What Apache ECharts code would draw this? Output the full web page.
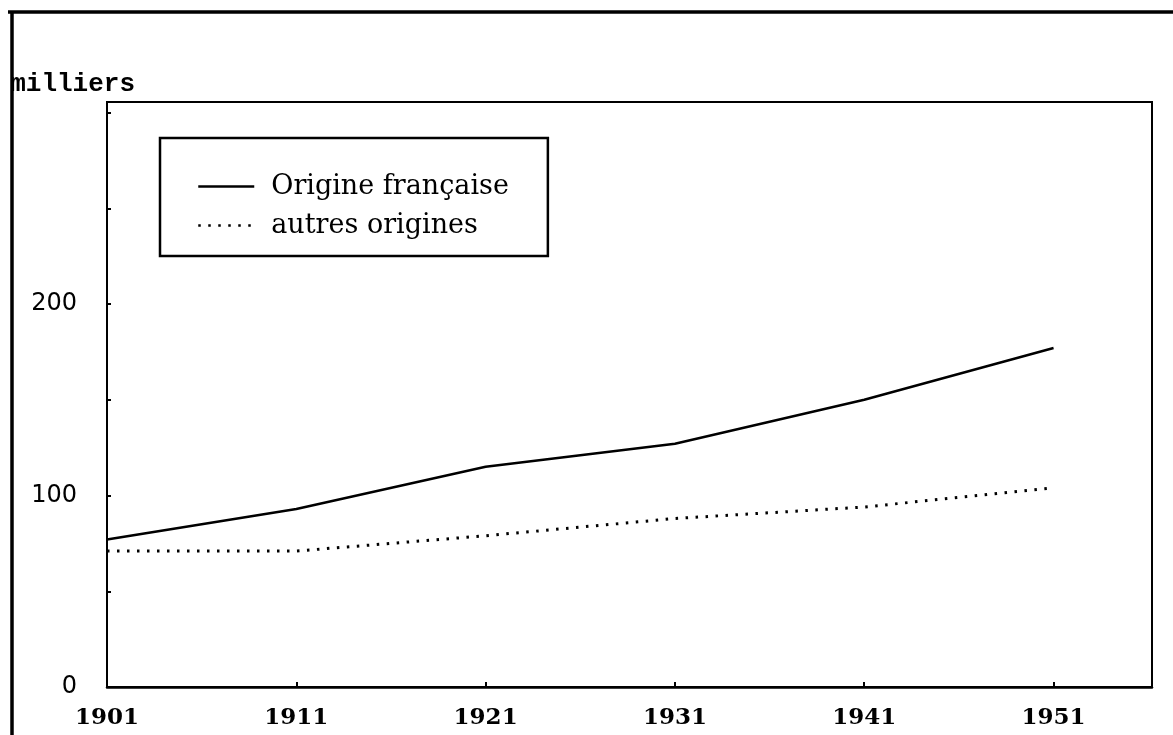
<!DOCTYPE html>
<html>
<head>
<meta charset="utf-8">
<script src="https://cdn.jsdelivr.net/npm/echarts@6/dist/echarts.min.js"></script>
<style>
html,body{margin:0;padding:0;background:#fff;}
#chart{width:1173px;height:735px;}
</style>
</head>
<body>
<div id="chart"></div>
<script>
// ---- data ----
const years = [1901, 1911, 1921, 1931, 1941, 1951];
const origineFrancaise = [77, 93, 115, 127, 150, 177];
const autresOrigines = [71, 71, 79, 88, 94, 104];
const seriesNames = ['Origine française', 'autres origines'];
const yUnit = 'milliers';
const yLabelValues = [0, 100, 200];
const YEAR0 = 1901;

const toXY = (vals) => years.map((y, i) => [y - YEAR0, vals[i]]);

const chart = echarts.init(document.getElementById('chart'), null, {renderer: 'canvas'});
chart.setOption({
  backgroundColor: '#fff',
  animation: false,
  graphic: [
    {type: 'line', shape: {x1: 8, y1: 12, x2: 1173, y2: 12}, style: {stroke: '#000', lineWidth: 3.5}},
    {type: 'line', shape: {x1: 12, y1: 12, x2: 12, y2: 735}, style: {stroke: '#000', lineWidth: 3.5}}
  ],
  grid: {
    left: 107, top: 102, right: 21, bottom: 48,
    show: true, borderColor: '#000', borderWidth: 2, backgroundColor: 'transparent'
  },
  legend: {
    orient: 'vertical',
    left: 160, top: 138,
    backgroundColor: '#fff',
    borderColor: '#000', borderWidth: 2.5,
    padding: [35, 39, 17, 37],
    itemWidth: 56, itemHeight: 14, itemGap: 12,
    itemStyle: {opacity: 0},
    lineStyle: {width: 2.5},
    textStyle: {fontFamily: 'DejaVu Serif', fontSize: 27, color: '#000', padding: [0, 0, 0, 12]},
    data: seriesNames
  },
  xAxis: {
    type: 'value', min: 0, max: 55.2, interval: 10,
    axisLine: {show: true, lineStyle: {color: '#000', width: 2.5}},
    axisTick: {show: true, inside: true, length: 5, lineStyle: {color: '#000', width: 2}},
    splitLine: {show: false},
    axisLabel: {
      margin: 20,
      fontFamily: 'DejaVu Serif', fontWeight: 'bold', fontSize: 23, color: '#000',
      showMaxLabel: false,
      formatter: (v) => (Math.abs(v % 10) < 1e-6 ? String(v + YEAR0) : '')
    }
  },
  yAxis: {
    type: 'value', min: 0, max: 305.5, interval: 50,
    name: yUnit, nameLocation: 'end', nameGap: 5,
    nameTextStyle: {fontFamily: 'Liberation Mono', fontWeight: 'bold', fontSize: 26, color: '#000', align: 'right', padding: [0, -28, 0, 0]},
    axisLine: {show: true, lineStyle: {color: '#000', width: 2}},
    axisTick: {show: true, inside: true, length: 4, lineStyle: {color: '#000', width: 2}},
    splitLine: {show: false},
    axisLabel: {
      margin: 30,
      fontFamily: 'DejaVu Sans', fontSize: 24, color: '#000',
      showMaxLabel: false,
      formatter: (v) => (yLabelValues.indexOf(v) >= 0 ? String(v) : '')
    }
  },
  series: [
    {
      name: seriesNames[0], type: 'line', data: toXY(origineFrancaise),
      symbol: 'none', color: '#000',
      lineStyle: {color: '#000', width: 2.5, type: 'solid'}
    },
    {
      name: seriesNames[1], type: 'line', data: toXY(autresOrigines),
      symbol: 'none', color: '#000',
      lineStyle: {color: '#000', width: 3, type: [2.5, 7.5]}
    }
  ]
});
</script>
</body>
</html>
